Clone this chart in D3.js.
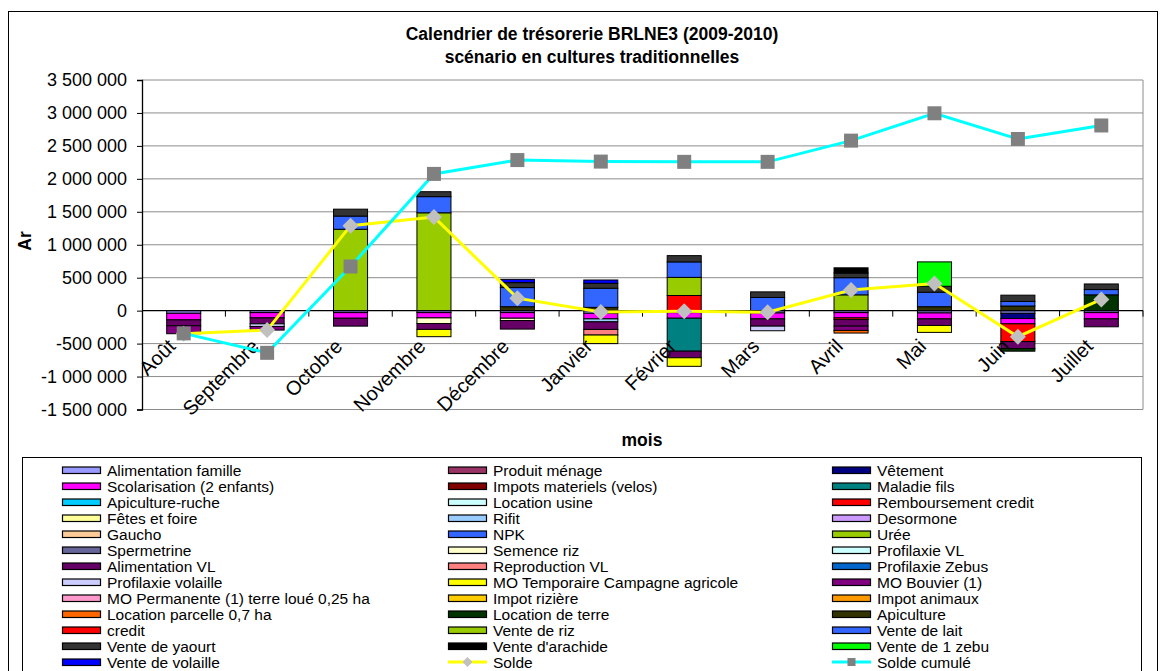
<!DOCTYPE html>
<html><head><meta charset="utf-8">
<script src="https://cdn.jsdelivr.net/npm/d3@7"></script>
<style>
body{margin:0;background:#fff;}
text{font-family:"Liberation Sans",Arial,sans-serif;fill:#000;}
</style>
</head><body>
<svg id="chart" width="1165" height="671"></svg>
<script>
// ---------- DATA ----------
const months = ["Août","Septembre","Octobre","Novembre","Décembre","Janvier","Février","Mars","Avril","Mai","Juin","Juillet"];

const seriesNames = [
  "Alimentation famille","Produit ménage","Vêtement","Scolarisation (2 enfants)","Impots materiels (velos)",
  "Maladie fils","Apiculture-ruche","Location usine","Remboursement credit","Fêtes et foire",
  "Rifit","Desormone","Gaucho","NPK","Urée","Spermetrine","Semence riz","Profilaxie VL",
  "Alimentation VL","Reproduction VL","Profilaxie Zebus","Profilaxie volaille",
  "MO Temporaire Campagne agricole","MO Bouvier (1)","MO Permanente (1) terre loué 0,25 ha",
  "Impot rizière","Impot animaux","Location parcelle 0,7 ha","Location de terre","Apiculture",
  "credit","Vente de riz","Vente de lait","Vente de yaourt","Vente d'arachide","Vente de 1 zebu","Vente de volaille"
];

const seriesColors = [
  "#9999FF","#993366","#000080","#FF00FF","#800000",
  "#008080","#00CCFF","#CCFFFF","#FF0000","#FFFF99",
  "#99CCFF","#CC99FF","#FFCC99","#3366FF","#99CC00","#666699","#FFFFCC","#CCFFFF",
  "#660066","#FF8080","#0066CC","#CCCCFF",
  "#FFFF00","#800080","#FF99CC",
  "#FFCC00","#FF9900","#FF6600","#003300","#333300",
  "#FF0000","#99CC00","#3366FF","#333333","#000000","#00FF00","#0000FF"
];

// values in Ar, one row per series, columns = months (Août ... Juillet)
const seriesValues = [
  [-40000,-30000,-30000,-30000,-30000,-40000,-30000,-35000,-30000,-35000,-40000,-30000], // Alimentation famille
  [0,0,0,0,0,0,0,0,0,0,0,0],                                                             // Produit ménage
  [0,0,0,0,0,0,0,0,0,0,-80000,0],                                                        // Vêtement
  [-100000,-80000,-85000,-80000,-85000,-85000,-85000,-90000,-80000,-90000,-80000,-95000],// Scolarisation
  [0,0,0,0,0,0,0,0,0,0,0,0],                                                             // Impots materiels
  [0,0,0,0,0,0,-500000,0,0,0,0,0],                                                       // Maladie fils
  [0,0,0,0,0,0,0,0,0,0,0,0],                                                             // Apiculture-ruche
  [0,0,0,0,0,0,0,0,0,0,0,0],                                                             // Location usine
  [0,0,0,0,0,0,0,0,-25000,0,-270000,0],                                                  // Remboursement credit
  [0,0,0,0,0,0,0,0,0,0,0,0],                                                             // Fêtes et foire
  [0,0,0,0,0,-45000,0,0,0,0,0,0],                                                        // Rifit
  [0,0,0,0,0,0,0,0,0,0,0,0],                                                             // Desormone
  [0,0,0,0,0,0,0,0,0,0,0,0],                                                             // Gaucho
  [0,0,0,0,0,0,0,0,0,0,0,0],                                                             // NPK
  [0,0,0,0,0,0,0,0,0,0,0,0],                                                             // Urée
  [0,0,0,0,0,0,0,0,0,0,0,0],                                                             // Spermetrine
  [0,0,0,-85000,-35000,0,0,0,0,0,0,0],                                                   // Semence riz
  [0,0,0,0,0,0,0,0,0,0,0,0],                                                             // Profilaxie VL
  [-90000,-90000,-120000,-90000,-130000,-115000,-100000,-110000,-100000,-100000,-105000,-120000], // Alimentation VL
  [0,0,0,0,0,-85000,0,0,0,0,0,0],                                                        // Reproduction VL
  [0,0,0,0,0,0,0,0,0,0,0,0],                                                             // Profilaxie Zebus
  [0,-40000,0,0,0,0,0,-70000,0,0,0,0],                                                   // Profilaxie volaille
  [0,0,0,-110000,0,-130000,-130000,0,0,-105000,0,0],                                     // MO Temporaire
  [-120000,-55000,0,0,0,0,0,0,-65000,0,0,0],                                             // MO Bouvier
  [0,0,0,0,0,0,0,0,0,0,0,0],                                                             // MO Permanente
  [0,0,0,0,0,0,0,0,0,0,0,0],                                                             // Impot rizière
  [0,0,0,0,0,0,0,0,0,0,0,0],                                                             // Impot animaux
  [0,0,0,0,0,0,0,0,-40000,0,0,0],                                                        // Location parcelle
  [0,0,0,0,0,0,0,0,0,0,-40000,240000],                                                   // Location de terre
  [0,0,0,0,60000,50000,0,0,0,60000,70000,0],                                             // Apiculture
  [0,0,0,0,0,0,230000,0,0,0,0,0],                                                        // credit
  [0,0,1235000,1485000,0,0,275000,0,240000,0,0,0],                                       // Vente de riz
  [0,0,200000,245000,290000,290000,235000,200000,260000,220000,70000,80000],             // Vente de lait
  [0,0,105000,75000,75000,75000,95000,85000,70000,90000,95000,85000],                    // Vente de yaourt
  [0,0,0,0,0,0,0,0,80000,0,0,0],                                                         // Vente d'arachide
  [0,0,0,0,0,0,0,0,0,370000,0,0],                                                        // Vente de 1 zebu
  [0,0,0,0,50000,50000,0,0,0,0,0,0]                                                      // Vente de volaille
];

const solde = [-350000,-295000,1290000,1420000,190000,-20000,-10000,-25000,312000,412000,-395000,170000];
const soldeCumule = [-345000,-640000,670000,2075000,2285000,2262000,2258000,2258000,2580000,2995000,2605000,2810000];
const yTickValues = [-1500000,-1000000,-500000,0,500000,1000000,1500000,2000000,2500000,3000000,3500000];

// ---------- CHART ----------
const svg = d3.select("#chart");
const FONT = '"Liberation Sans",Arial,sans-serif';

// outer frame
svg.append("rect").attr("x",8.5).attr("y",11.5).attr("width",1149).attr("height",700)
  .attr("fill","#fff").attr("stroke","#000").attr("stroke-width",1);

const plot = {left:142, right:1143, top:80, bottom:409.5};
const y = d3.scaleLinear().domain([-1500000,3500000]).range([plot.bottom, plot.top]);
const pIn = 0.592;
const x = d3.scaleBand().domain(months).range([plot.left, plot.right]).paddingInner(pIn).paddingOuter(pIn/2);
const cx = m => x(m) + x.bandwidth()/2;

// title
svg.append("text").attr("x",592).attr("y",40).attr("text-anchor","middle")
  .style("font-size","17.5px").style("font-weight","bold").text("Calendrier de trésorerie BRLNE3 (2009-2010)");
svg.append("text").attr("x",592).attr("y",63).attr("text-anchor","middle")
  .style("font-size","17.5px").style("font-weight","bold").text("scénario en cultures traditionnelles");

// gridlines
svg.append("g").selectAll("line").data(yTickValues.filter(v=>v!==0)).join("line")
  .attr("x1",plot.left).attr("x2",plot.right).attr("y1",d=>y(d)).attr("y2",d=>y(d))
  .attr("stroke","#8c8c8c").attr("stroke-width",1);
// right border of plot
svg.append("line").attr("x1",plot.right).attr("x2",plot.right).attr("y1",plot.top).attr("y2",plot.bottom)
  .attr("stroke","#8c8c8c");

// stacked bars
const stackData = months.map((m,j)=>{
  const o = {month:m};
  seriesValues.forEach((vals,i)=>{ o[i] = vals[j]; });
  return o;
});
const stack = d3.stack().keys(seriesNames.map((_,i)=>i)).offset(d3.stackOffsetDiverging);
const stacked = stack(stackData);
const barG = svg.append("g");
stacked.forEach((layer,i)=>{
  barG.append("g").selectAll("rect").data(layer.filter(d=>d[1]!==d[0])).join("rect")
    .attr("x",d=>x(d.data.month)).attr("width",x.bandwidth())
    .attr("y",d=>y(Math.max(d[0],d[1])))
    .attr("height",d=>Math.abs(y(d[0])-y(d[1])))
    .attr("fill",seriesColors[i]).attr("stroke","#000").attr("stroke-width",1);
});

// y axis
const fmt = d3.formatLocale({decimal:",",thousands:" ",grouping:[3],currency:["",""],minus:"-"}).format(",");
const yAxis = svg.append("g").attr("transform",`translate(${plot.left},0)`)
  .call(d3.axisLeft(y).tickValues(yTickValues).tickSize(5).tickPadding(10).tickFormat(fmt));
yAxis.selectAll("text").style("font-size","18px").style("font-family",FONT).attr("fill","#000");
yAxis.select(".domain").attr("stroke","#000").attr("stroke-width",1.3);
yAxis.selectAll(".tick line").attr("stroke","#000");

// zero line (category axis) with ticks between categories
svg.append("line").attr("x1",plot.left).attr("x2",plot.right).attr("y1",y(0)).attr("y2",y(0))
  .attr("stroke","#000").attr("stroke-width",1.3);
const boundaries = months.map((m,i)=>plot.left + x.step()*(i+1));
svg.append("g").selectAll("line").data(boundaries).join("line")
  .attr("x1",d=>d).attr("x2",d=>d).attr("y1",y(0)).attr("y2",y(0)+6).attr("stroke","#000");

// category labels (rotated)
svg.append("g").selectAll("text").data(months).join("text")
  .attr("transform",d=>`translate(${cx(d)-7},${y(0)+37}) rotate(-45)`)
  .attr("text-anchor","end").style("font-size","20px").text(d=>d);

// lines
const line = d3.line().x((d,i)=>cx(months[i])).y(d=>y(d));
svg.append("path").datum(solde).attr("d",line).attr("fill","none").attr("stroke","#FFFF00").attr("stroke-width",3);
svg.append("g").selectAll("path").data(solde).join("path")
  .attr("d",(d,i)=>{const X=cx(months[i]),Y=y(d),r=8;return `M${X},${Y-r}L${X+r},${Y}L${X},${Y+r}L${X-r},${Y}Z`;})
  .attr("fill","#C0C0C0");
svg.append("path").datum(soldeCumule).attr("d",line).attr("fill","none").attr("stroke","#00FFFF").attr("stroke-width",3);
svg.append("g").selectAll("rect").data(soldeCumule).join("rect")
  .attr("x",(d,i)=>cx(months[i])-7).attr("y",d=>y(d)-7).attr("width",14).attr("height",14)
  .attr("fill","#808080");

// axis titles
svg.append("text").attr("x",642).attr("y",446).attr("text-anchor","middle")
  .style("font-size","17.5px").style("font-weight","bold").text("mois");
svg.append("text").attr("transform","translate(31,241) rotate(-90)").attr("text-anchor","middle")
  .style("font-size","17.5px").style("font-weight","bold").text("Ar");

// legend
svg.append("rect").attr("x",22.5).attr("y",457.5).attr("width",1119).attr("height",300)
  .attr("fill","#fff").attr("stroke","#000");
const legendItems = seriesNames.map((n,i)=>({name:n,color:seriesColors[i],type:"bar"}))
  .concat([{name:"Solde",type:"solde"},{name:"Solde cumulé",type:"cumul"}]);
const colX = [62, 448, 832];
const lg = svg.append("g").selectAll("g").data(legendItems).join("g")
  .attr("transform",(d,i)=>`translate(${colX[i%3]},${470 + 16*Math.floor(i/3)})`);
lg.filter(d=>d.type==="bar").append("rect").attr("x",0.5).attr("y",-3).attr("width",38).attr("height",6.5)
  .attr("fill",d=>d.color).attr("stroke","#000").attr("stroke-width",1.2);
lg.filter(d=>d.type!=="bar").append("line").attr("x1",0).attr("x2",39).attr("y1",0).attr("y2",0)
  .attr("stroke",d=>d.type==="solde"?"#FFFF00":"#00FFFF").attr("stroke-width",3);
lg.filter(d=>d.type==="solde").append("path").attr("d","M19.5,-5L24.5,0L19.5,5L14.5,0Z").attr("fill","#C0C0C0");
lg.filter(d=>d.type==="cumul").append("rect").attr("x",15.5).attr("y",-4).attr("width",8).attr("height",8).attr("fill","#808080");
lg.append("text").attr("x",45).attr("y",5.5).style("font-size","15.5px").text(d=>d.name);
</script>
</body></html>
